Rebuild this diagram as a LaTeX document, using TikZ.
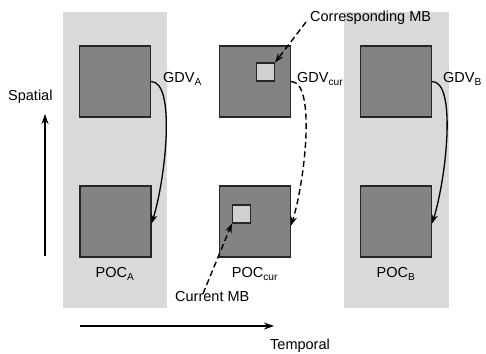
\documentclass[tikz,border=0pt]{standalone}
\usepackage{fontspec}
\setmainfont{Liberation Sans}
\usetikzlibrary{arrows.meta}
\definecolor{bandc}{HTML}{D9D9D9}
\definecolor{sqc}{HTML}{838383}
\definecolor{mbc}{HTML}{D0D0D0}
\tikzset{
  band/.style={fill=bandc, draw=none},
  bigsq/.style={draw=black!85, line width=1.2pt, fill=sqc, minimum size=71pt, inner sep=0pt},
  mbsq/.style={draw=black!85, line width=1.2pt, fill=mbc, minimum size=18pt, inner sep=0pt},
  lbl/.style={font=\fontsize{14.5}{16}\selectfont, inner sep=1pt},
  tip/.style={-{Stealth[length=9pt,width=6.5pt]}},
  conn/.style={line width=1.3pt, tip},
  dconn/.style={line width=1.4pt, tip, dash pattern=on 6pt off 3.5pt},
}
\begin{document}
\begin{tikzpicture}[x=1pt,y=-1pt]
\useasboundingbox (0,0) rectangle (486,353);
\fill[white] (0,0) rectangle (486,353);
% background bands
\fill[band] (63,12) rectangle (167,308);
\fill[band] (344,12) rectangle (449,308);
% squares
\node[bigsq] (A1) at (115,81.5) {};
\node[bigsq] (A2) at (115.5,221.5) {};
\node[bigsq] (C1) at (255,81.5) {};
\node[bigsq] (C2) at (255,221.5) {};
\node[bigsq] (B1) at (396,81.5) {};
\node[bigsq] (B2) at (396,221.5) {};
% macroblocks
\node[mbsq] (mb1) at (265.5,72) {};
\node[mbsq] (mb2) at (241.5,214) {};
% labels
\node[lbl, anchor=west] (gA) at (162,79) {GDV\textsubscript{A}};
\node[lbl, anchor=west] (gC) at (296,79) {GDV\textsubscript{cur}};
\node[lbl, anchor=west] (gB) at (442,79) {GDV\textsubscript{B}};
\node[lbl] (pA) at (115,274) {POC\textsubscript{A}};
\node[lbl] (pC) at (255,274) {POC\textsubscript{cur}};
\node[lbl] (pB) at (396,274) {POC\textsubscript{B}};
\node[lbl, anchor=west] (cmb) at (309,18) {Corresponding MB};
\node[lbl, anchor=west] (cur) at (174,297) {Current MB};
\node[lbl, anchor=west] (sp) at (7,97) {Spatial};
\node[lbl, anchor=west] (tp) at (269,346) {Temporal};
% axis arrows
\coordinate (s0) at (45,256);
\coordinate (s1) at (45,114);
\coordinate (t0) at (80,326);
\coordinate (t1) at (274,326);
\draw[line width=1.3pt, -{Stealth[length=10pt,width=7pt]}] (s0) -- (s1);
\draw[line width=1.3pt, -{Stealth[length=10pt,width=7pt]}] (t0) -- (t1);
% GDV curves
\draw[conn] (A1.east) .. controls +(25,0) and +(14,-45) .. ([yshift=-2pt]A2.east);
\draw[conn] (B1.east) .. controls +(25,0) and +(14,-45) .. ([yshift=-2pt]B2.east);
\draw[dconn] (C1.east) .. controls +(25,0) and +(14,-45) .. ([yshift=-4pt]C2.east);
% MB pointers
\draw[dconn] ([xshift=-3pt,yshift=-4pt]cmb.west) -- (mb1.north east);
\draw[dconn] ([xshift=29pt,yshift=-3pt]cur.north west) -- (mb2.south west);
\end{tikzpicture}
\end{document}
